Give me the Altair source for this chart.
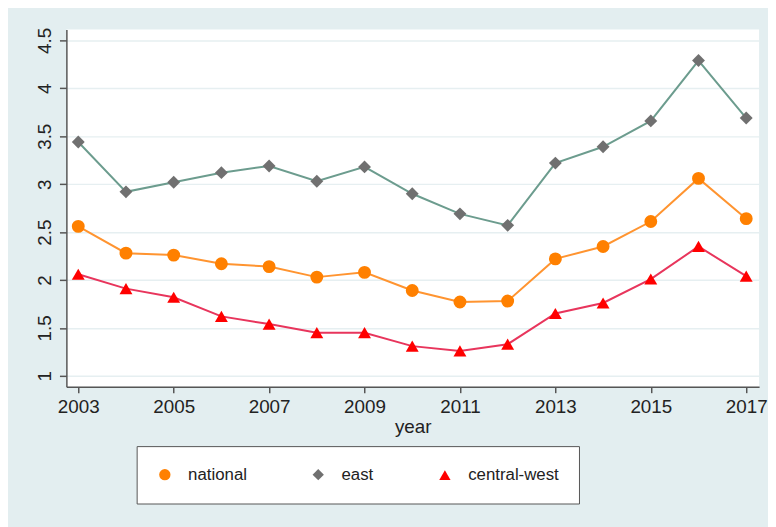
import altair as alt
import pandas as pd

years = list(range(2003, 2018))
national = [2.56, 2.28, 2.26, 2.17, 2.14, 2.03, 2.08, 1.89, 1.77, 1.78, 2.22, 2.35, 2.61, 3.06, 2.64]
east = [3.44, 2.92, 3.02, 3.12, 3.19, 3.03, 3.18, 2.90, 2.69, 2.57, 3.22, 3.39, 3.66, 4.29, 3.69]
central_west = [2.06, 1.91, 1.82, 1.62, 1.54, 1.45, 1.45, 1.31, 1.26, 1.33, 1.65, 1.76, 2.01, 2.35, 2.04]

series_names = ["national", "east", "central-west"]
line_colors = ["#FF9430", "#6C9C8E", "#E8355C"]
marker_colors = ["#FF8000", "#707070", "#FF0000"]
marker_shapes = ["circle", "diamond", "triangle-up"]

x_ticks = [2003, 2005, 2007, 2009, 2011, 2013, 2015, 2017]
y_ticks = [1, 1.5, 2, 2.5, 3, 3.5, 4, 4.5]

rows = []
for name, vals in zip(series_names, [national, east, central_west]):
    for yr, v in zip(years, vals):
        rows.append({"year": yr, "value": v, "series": name})
df = pd.DataFrame(rows)

FONT = "Liberation Sans"

x_enc = alt.X(
    "year:Q",
    scale=alt.Scale(domain=[2002.751, 2017.27], nice=False, zero=False),
    axis=alt.Axis(values=x_ticks, format="d", title="year", grid=False,
                  tickSize=6, labelPadding=5, titlePadding=1),
)
y_enc = alt.Y(
    "value:Q",
    scale=alt.Scale(domain=[0.886, 4.614], nice=False, zero=False),
    axis=alt.Axis(values=y_ticks, format="~f", title=None, grid=True,
                  labelAngle=270, tickSize=7, labelPadding=5),
)

legend = alt.Legend(
    title=None, orient="none", legendX=71, legendY=421, direction="horizontal",
    fillColor="white", strokeColor="#555555", padding=20,
    labelFont=FONT, labelFontSize=17, labelColor="#222222",
    symbolSize=130, symbolOpacity=1, labelOffset=15, columnPadding=62,
)

base = alt.Chart(df)
line_layers = [
    base.transform_filter(alt.datum.series == name)
    .mark_line(strokeWidth=2, color=col)
    .encode(x=x_enc, y=y_enc)
    for name, col in zip(series_names, line_colors)
]

points = base.mark_point(filled=True, opacity=1, size=170).encode(
    x=x_enc,
    y=y_enc,
    color=alt.Color("series:N", scale=alt.Scale(domain=series_names, range=marker_colors), legend=legend),
    shape=alt.Shape("series:N", scale=alt.Scale(domain=series_names, range=marker_shapes), legend=legend),
)

chart = alt.layer(*line_layers, points).properties(
    width=700,
    height=361,
    autosize=alt.AutoSizeParams(type="none"),
    padding={"left": 59, "top": 19, "right": 9, "bottom": 139},
    background="#E3EEF0",
).configure_view(
    fill="white", strokeWidth=0,
).configure_axis(
    labelFont=FONT, titleFont=FONT, labelFontSize=19, titleFontSize=19,
    labelColor="#222222", titleColor="#222222", titleFontWeight="normal",
    domainColor="#555555", tickColor="#555555", domainWidth=1.5, tickWidth=1.5,
    gridColor="#E6EFF1", gridWidth=1.5,
)

chart.save("out.html", embed_options={"renderer": "svg", "actions": False})
